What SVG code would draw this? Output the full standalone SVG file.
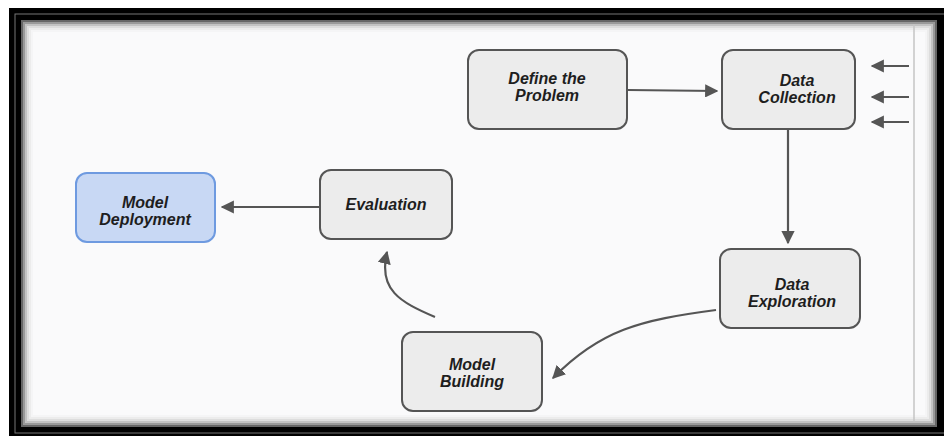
<svg xmlns="http://www.w3.org/2000/svg" width="944" height="436" viewBox="0 0 944 436">
<defs>
<style>
.node rect{fill:#ececec;stroke:#555;stroke-width:2}
.node.blue rect{fill:#c8d8f4;stroke:#6e9ae0}
.node text{font-family:"Liberation Sans",Arial,sans-serif;font-weight:bold;font-style:italic;font-size:16px;fill:#1e1e1e;text-anchor:middle}
.conn path,.conn line{fill:none;stroke:#555;stroke-width:2.2}
</style>
<marker id="ah" viewBox="0 0 10 10" refX="9" refY="5" markerWidth="6" markerHeight="6" orient="auto" markerUnits="strokeWidth">
<path d="M0,0 L10,5 L0,10 z" fill="#555"/>
</marker>
</defs>
<rect width="944" height="436" fill="#fff"/>
<rect x="9" y="8" width="935" height="428" fill="#000"/>
<rect x="15" y="14" width="935" height="419" fill="none" stroke="#777" stroke-width="1"/>
<rect x="21" y="20" width="916" height="407" fill="#fafafb"/>
<g fill="none">
<rect x="22" y="21" width="914" height="405" stroke="#666" stroke-width="2"/>
<rect x="24" y="23" width="910" height="401" stroke="#999" stroke-width="2"/>
<rect x="26" y="25" width="906" height="397" stroke="#c2c2c2" stroke-width="2"/>
<rect x="28" y="27" width="902" height="393" stroke="#dddddd" stroke-width="2"/>
<rect x="30" y="29" width="898" height="389" stroke="#ececec" stroke-width="2"/>
<rect x="32" y="31" width="894" height="385" stroke="#f5f5f6" stroke-width="2"/>
</g>
<line x1="914" y1="24" x2="914" y2="422" stroke="#c4c4c4" stroke-width="1.5"/>
<g class="conn">
<line x1="628" y1="90" x2="717" y2="91" marker-end="url(#ah)"/>
<line x1="909" y1="66" x2="872" y2="66" marker-end="url(#ah)"/>
<line x1="909" y1="97" x2="872" y2="97" marker-end="url(#ah)"/>
<line x1="909" y1="122" x2="872" y2="122" marker-end="url(#ah)"/>
<line x1="788" y1="130" x2="788" y2="243" marker-end="url(#ah)"/>
<path d="M716,310 C640,320 600,330 553,378" marker-end="url(#ah)"/>
<path d="M435,317 C400,302 378,290 387,252" marker-end="url(#ah)"/>
<line x1="320" y1="207" x2="222" y2="207" marker-end="url(#ah)"/>
</g>
<g id="define-problem" class="node"><rect x="468" y="50" width="159" height="79" rx="11"/><text x="547" y="84">Define the</text><text x="547" y="101">Problem</text></g>
<g id="data-collection" class="node"><rect x="722" y="50" width="133" height="79" rx="11"/><text x="797" y="86">Data</text><text x="797" y="103">Collection</text></g>
<g id="data-exploration" class="node"><rect x="720" y="249" width="140" height="79" rx="11"/><text x="792" y="290">Data</text><text x="792" y="307">Exploration</text></g>
<g id="model-building" class="node"><rect x="402" y="332" width="140" height="79" rx="11"/><text x="472" y="370">Model</text><text x="472" y="387">Building</text></g>
<g id="evaluation" class="node"><rect x="320" y="170" width="132" height="69" rx="11"/><text x="386" y="210">Evaluation</text></g>
<g id="model-deployment" class="node blue"><rect x="76" y="173" width="139" height="69" rx="11"/><text x="145" y="208">Model</text><text x="145" y="225">Deployment</text></g>
</svg>
